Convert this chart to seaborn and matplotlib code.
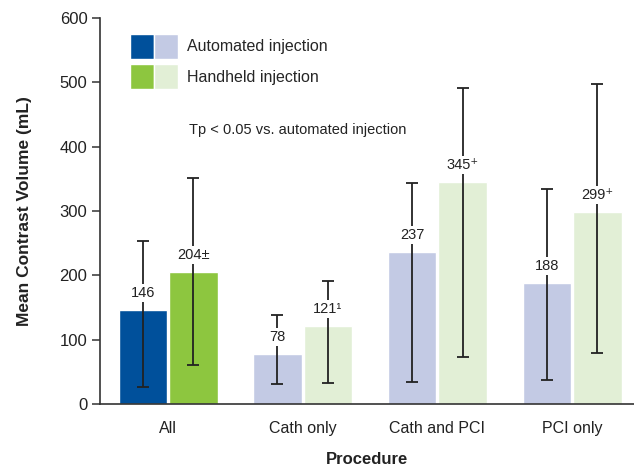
import matplotlib
matplotlib.use("Agg")
import matplotlib.pyplot as plt
import seaborn as sns
import pandas as pd
from matplotlib.patches import Patch
from matplotlib.legend_handler import HandlerTuple

procedures = ["All", "Cath only", "Cath and PCI", "PCI only"]
automated = [146, 78, 237, 188]
handheld = [205, 121, 345, 299]
auto_low = [26, 31, 34, 37]
auto_high = [253, 138, 344, 334]
hand_low = [61, 33, 73, 79]
hand_high = [351, 191, 491, 498]
auto_labels = ["146", "78", "237", "188"]
hand_labels = ["204\u00b1", "121\u00b9", "345\u207a", "299\u207a"]
groups = ["Automated injection", "Handheld injection"]

DARK_BLUE = "#00509b"
LIGHT_BLUE = "#c3cae4"
GREEN = "#8dc63f"
LIGHT_GREEN = "#e2efd6"

df = pd.DataFrame({
    "Procedure": procedures * 2,
    "Volume": automated + handheld,
    "Injection": [groups[0]] * 4 + [groups[1]] * 4,
})

sns.set_theme(style="white")
plt.rcParams["font.family"] = ["Liberation Sans", "DejaVu Sans"]

fig = plt.figure(figsize=(6.34, 4.66), dpi=100)
ax = fig.add_axes([100 / 634, 62 / 466, 534 / 634, 386 / 466])

sns.barplot(data=df, x="Procedure", y="Volume", hue="Injection",
            palette=[LIGHT_BLUE, LIGHT_GREEN], width=0.75, gap=0.04,
            errorbar=None, legend=False, ax=ax, saturation=1)

# first group drawn in full colour
bars_auto = ax.containers[0]
bars_hand = ax.containers[1]
bars_auto[0].set_facecolor(DARK_BLUE)
bars_hand[0].set_facecolor(GREEN)

for bars, vals, lo, hi, labs in [(bars_auto, automated, auto_low, auto_high, auto_labels),
                                 (bars_hand, handheld, hand_low, hand_high, hand_labels)]:
    xs = [b.get_x() + b.get_width() / 2 for b in bars]
    err = [[v - l for v, l in zip(vals, lo)], [h - v for v, h in zip(vals, hi)]]
    ax.errorbar(xs, vals, yerr=err, fmt="none", ecolor="#222222",
                elinewidth=1.3, capsize=4.5, capthick=1.3, zorder=3)
    for x, v, t in zip(xs, vals, labs):
        ax.text(x, v + 26, t, ha="center", va="center", fontsize=10.5,
                color="#222222", zorder=4,
                bbox=dict(facecolor="white", edgecolor="none", pad=1.5))

ax.set_xlim(-0.505, 3.46)
ax.set_ylim(0, 600)
ax.set_yticks(range(0, 601, 100))
ax.set_xlabel("Procedure", fontsize=12, fontweight="bold", color="#222222", labelpad=12)
ax.set_ylabel("Mean Contrast Volume (mL)", fontsize=12.5, fontweight="bold",
              color="#222222", labelpad=20)
ax.tick_params(axis="y", left=True, length=6, width=1.1, color="#333333",
               labelsize=12, labelcolor="#222222", pad=3)
ax.tick_params(axis="x", bottom=False, labelsize=11.5, labelcolor="#222222", pad=6)
for side in ["top", "right"]:
    ax.spines[side].set_visible(False)
for side in ["left", "bottom"]:
    ax.spines[side].set_color("#333333")
    ax.spines[side].set_linewidth(1.2)

handles = [(Patch(facecolor=DARK_BLUE), Patch(facecolor=LIGHT_BLUE)),
           (Patch(facecolor=GREEN), Patch(facecolor=LIGHT_GREEN))]
ax.legend(handles, groups, handler_map={tuple: HandlerTuple(ndivide=None, pad=0)},
          loc="upper left", bbox_to_anchor=(0.045, 0.975), frameon=False,
          fontsize=11.5, handlelength=2.95, handleheight=2.0, handletextpad=0.6,
          labelspacing=0.35, borderaxespad=0)

ax.text(0.167, 0.71, "Tp < 0.05 vs. automated injection", transform=ax.transAxes,
        fontsize=10.5, color="#222222", va="center")

fig.savefig("out.png", dpi=100)
